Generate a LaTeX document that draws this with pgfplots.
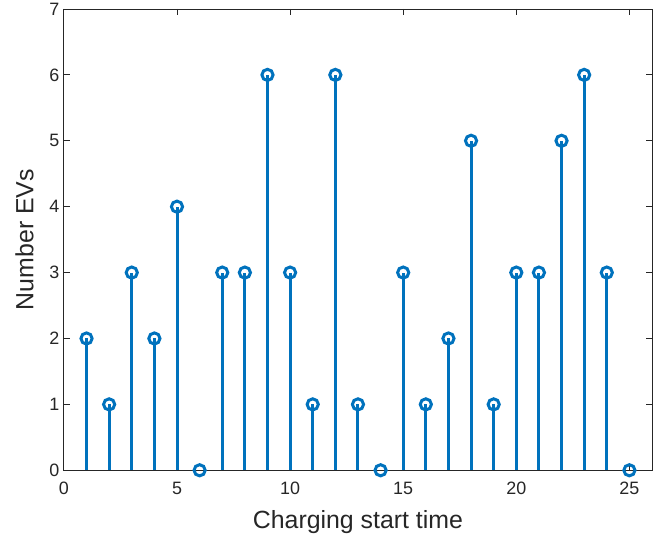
\documentclass[border=0pt]{standalone}
\usepackage{pgfplots}
\pgfplotsset{compat=1.18}
\usepackage{fontspec}
\setmainfont{Liberation Sans}
\definecolor{mblue}{rgb}{0,0.447,0.741}
\definecolor{axgray}{rgb}{0.15,0.15,0.15}
\begin{document}
\begin{tikzpicture}[x=1bp,y=1bp]
\begin{axis}[
  scale only axis,
  width=589bp, height=462bp,
  xmin=0, xmax=26, ymin=0, ymax=7,
  xtick={0,5,...,25}, ytick={0,1,...,7},
  xticklabels={0,5,10,15,20,25},
  yticklabels={0,1,2,3,4,5,6,7},
  tick align=inside,
  major tick length=6bp,
  axis line style={axgray, line width=0.9bp},
  every tick/.style={axgray, line width=0.9bp},
  xticklabel style={font=\fontsize{18}{21}\selectfont, text=axgray, yshift=-8bp},
  yticklabel style={font=\fontsize{18}{21}\selectfont, text=axgray, xshift=-1bp},
  label style={font=\fontsize{25}{29}\selectfont, text=axgray},
  xlabel={Charging start time},
  ylabel={Number EVs},
  xlabel style={yshift=-9bp},
  ylabel style={yshift=9bp},
  clip=false,
]
\addplot[ycomb, mblue, line width=3bp, mark=o,
  mark size=5.6bp, mark options={line width=3bp, fill=none}] coordinates {
  (1,2)(2,1)(3,3)(4,2)(5,4)(6,0)(7,3)(8,3)(9,6)(10,3)
  (11,1)(12,6)(13,1)(14,0)(15,3)(16,1)(17,2)(18,5)(19,1)(20,3)
  (21,3)(22,5)(23,6)(24,3)(25,0)
};
\end{axis}
\pgfresetboundingbox
\path (current axis.south west) ++(-64bp,-67bp) rectangle ([shift={(12bp,9bp)}]current axis.north east);
\end{tikzpicture}
\end{document}
